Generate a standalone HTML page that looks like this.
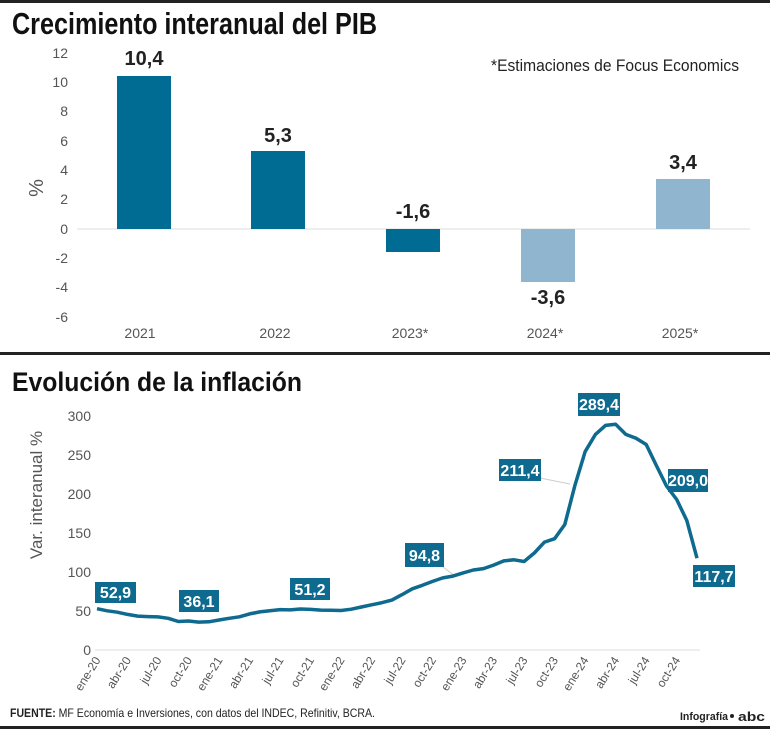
<!DOCTYPE html>
<html><head><meta charset="utf-8"><style>body{margin:0;background:#fff}svg{display:block}</style></head>
<body>
<svg width="770" height="729" xmlns="http://www.w3.org/2000/svg" font-family="Liberation Sans, sans-serif">
<rect x="0" y="0" width="770" height="3" fill="#222"/>
<rect x="0" y="352" width="770" height="3" fill="#222"/>
<rect x="0" y="726" width="770" height="3" fill="#222"/>
<text x="12" y="34" font-size="31" font-weight="bold" fill="#111" textLength="365" lengthAdjust="spacingAndGlyphs">Crecimiento interanual del PIB</text>
<text x="491" y="71" font-size="17" fill="#222" textLength="248" lengthAdjust="spacingAndGlyphs">*Estimaciones de Focus Economics</text>
<g font-size="14" fill="#555" text-anchor="end">
<text x="68" y="58">12</text><text x="68" y="87">10</text><text x="68" y="116">8</text><text x="68" y="146">6</text><text x="68" y="175">4</text><text x="68" y="204">2</text><text x="68" y="234">0</text><text x="68" y="263">-2</text><text x="68" y="292">-4</text><text x="68" y="322">-6</text>
</g>
<text transform="translate(43,188) rotate(-90)" font-size="20" fill="#555" text-anchor="middle">%</text>
<line x1="77" y1="229" x2="750" y2="229" stroke="#ddd" stroke-width="1"/>
<rect x="117" y="76" width="54" height="153" fill="#006c93"/>
<rect x="251" y="151" width="54" height="78" fill="#006c93"/>
<rect x="386" y="229" width="54" height="23" fill="#006c93"/>
<rect x="521" y="229" width="54" height="53" fill="#8fb5cf"/>
<rect x="656" y="179" width="54" height="50" fill="#8fb5cf"/>
<g font-size="20" font-weight="bold" fill="#222" text-anchor="middle">
<text x="144" y="65">10,4</text><text x="278" y="142">5,3</text><text x="413" y="218">-1,6</text><text x="548" y="304">-3,6</text><text x="683" y="169">3,4</text>
</g>
<g font-size="14" fill="#555" text-anchor="middle">
<text x="140" y="338">2021</text><text x="275" y="338">2022</text><text x="410" y="338">2023*</text><text x="545" y="338">2024*</text><text x="680" y="338">2025*</text>
</g>
<text x="12" y="391" font-size="27" font-weight="bold" fill="#111" textLength="290" lengthAdjust="spacingAndGlyphs">Evolución de la inflación</text>
<g font-size="14" fill="#555" text-anchor="end">
<text x="91" y="421">300</text><text x="91" y="460">250</text><text x="91" y="499">200</text><text x="91" y="538">150</text><text x="91" y="577">100</text><text x="91" y="616">50</text><text x="91" y="655">0</text>
</g>
<text transform="translate(42,495) rotate(-90)" font-size="17" fill="#555" text-anchor="middle">Var. interanual %</text>
<line x1="95" y1="650" x2="700" y2="650" stroke="#ddd"/>
<line x1="443" y1="567" x2="455" y2="576" stroke="#ccc"/>
<line x1="540" y1="478" x2="570" y2="484" stroke="#ccc"/>
<polyline fill="none" stroke="#0e6a8e" stroke-width="3.5" stroke-linejoin="round" points="97,608.7 107.2,610.8 117.3,612.2 127.5,614.4 137.7,616.1 147.9,616.6 158,616.9 168.2,618.3 178.4,621.5 188.5,621 198.7,622.1 208.9,621.8 219,620 229.2,618.3 239.4,616.8 249.6,613.9 259.7,611.9 269.9,610.8 280.1,609.6 290.2,609.9 300.4,609 310.6,609.4 320.7,610.1 330.9,610.3 341.1,610.5 351.3,609.2 361.4,607 371.6,604.8 381.8,602.7 391.9,600.1 402.1,594.6 412.3,588.8 422.4,585.3 432.6,581.4 442.8,577.9 452.9,576.1 463.1,572.9 473.3,570 483.5,568.6 493.6,565.1 503.8,560.9 514,559.8 524.1,561.5 534.3,553 544.5,542.1 554.6,538.7 564.8,524.5 575,485.1 585.1,451.7 595.3,434.6 605.5,425.4 615.7,424.3 625.8,434.4 636,438.2 646.2,444.5 656.3,465.4 666.5,486 676.7,499.5 686.8,520.5 697,558.2"/>
<g font-size="16" font-weight="bold" fill="#fff" text-anchor="middle">
<rect x="95" y="582" width="41" height="21" fill="#0e6a8e"/><text x="115.5" y="598">52,9</text>
<rect x="179" y="590" width="40" height="22" fill="#0e6a8e"/><text x="199" y="607">36,1</text>
<rect x="290" y="578" width="40" height="22" fill="#0e6a8e"/><text x="310" y="595">51,2</text>
<rect x="405" y="543" width="39" height="24" fill="#0e6a8e"/><text x="424.5" y="561">94,8</text>
<rect x="499" y="459" width="42" height="22" fill="#0e6a8e"/><text x="520" y="476">211,4</text>
<rect x="578" y="393" width="42" height="23" fill="#0e6a8e"/><text x="599" y="410">289,4</text>
<rect x="668" y="469" width="40" height="23" fill="#0e6a8e"/><text x="688" y="486">209,0</text>
<rect x="693" y="565" width="42" height="22" fill="#0e6a8e"/><text x="714" y="582">117,7</text>
</g>
<g font-size="12" fill="#555" text-anchor="end">
<text transform="translate(101,660) rotate(-58)">ene-20</text>
<text transform="translate(131.5,660) rotate(-58)">abr-20</text>
<text transform="translate(162,660) rotate(-58)">jul-20</text>
<text transform="translate(192.5,660) rotate(-58)">oct-20</text>
<text transform="translate(223,660) rotate(-58)">ene-21</text>
<text transform="translate(253.6,660) rotate(-58)">abr-21</text>
<text transform="translate(284.1,660) rotate(-58)">jul-21</text>
<text transform="translate(314.6,660) rotate(-58)">oct-21</text>
<text transform="translate(345.1,660) rotate(-58)">ene-22</text>
<text transform="translate(375.6,660) rotate(-58)">abr-22</text>
<text transform="translate(406.1,660) rotate(-58)">jul-22</text>
<text transform="translate(436.6,660) rotate(-58)">oct-22</text>
<text transform="translate(467.1,660) rotate(-58)">ene-23</text>
<text transform="translate(497.6,660) rotate(-58)">abr-23</text>
<text transform="translate(528.1,660) rotate(-58)">jul-23</text>
<text transform="translate(558.6,660) rotate(-58)">oct-23</text>
<text transform="translate(589.1,660) rotate(-58)">ene-24</text>
<text transform="translate(619.7,660) rotate(-58)">abr-24</text>
<text transform="translate(650.2,660) rotate(-58)">jul-24</text>
<text transform="translate(680.7,660) rotate(-58)">oct-24</text>
</g>
<text x="10" y="717" font-size="12" fill="#222" textLength="365" lengthAdjust="spacingAndGlyphs"><tspan font-weight="bold">FUENTE:</tspan> MF Economía e Inversiones, con datos del INDEC, Refinitiv, BCRA.</text>
<text x="680" y="720" font-size="11" font-weight="bold" fill="#222" textLength="48" lengthAdjust="spacingAndGlyphs">Infografía</text>
<circle cx="732" cy="716" r="2" fill="#222"/>
<text x="738" y="721" font-size="13" font-weight="bold" fill="#222" textLength="27" lengthAdjust="spacingAndGlyphs">abc</text>
</svg>
</body></html>
